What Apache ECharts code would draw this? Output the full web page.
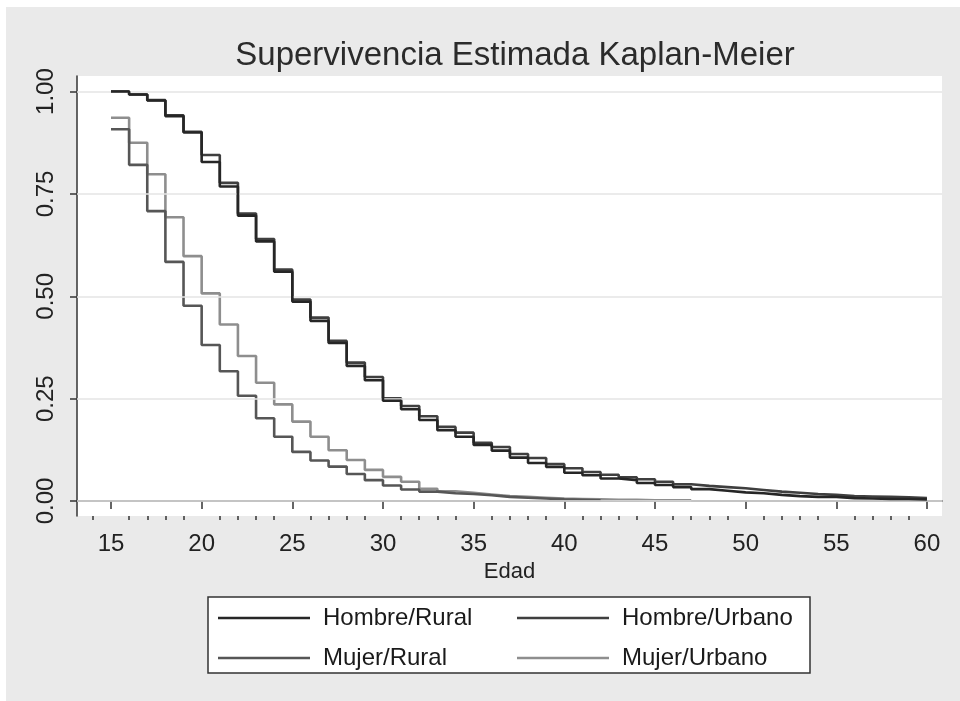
<!DOCTYPE html>
<html>
<head>
<meta charset="utf-8">
<title>Supervivencia Estimada Kaplan-Meier</title>
<script src="https://cdn.jsdelivr.net/npm/echarts@6/dist/echarts.min.js"></script>
<style>
 html, body { margin: 0; padding: 0; background: #fff; }
 #main { width: 960px; height: 701px; }
</style>
</head>
<body>
<div id="main"></div>
<script>
/** datos **/
var seriesNames = ['Hombre/Rural', 'Hombre/Urbano', 'Mujer/Rural', 'Mujer/Urbano'];
var seriesColors = ['#262626', '#3f3f3f', '#565656', '#8e8e8e'];

// edad de inicio de cada tramo: 15, 16, 17 ...
var startAge = 15;
var hombreRural = [1.000, 0.993, 0.978, 0.940, 0.900, 0.828, 0.768, 0.697, 0.634, 0.560,
  0.487, 0.440, 0.386, 0.330, 0.295, 0.245, 0.224, 0.198, 0.173, 0.157,
  0.137, 0.123, 0.106, 0.093, 0.083, 0.069, 0.063, 0.055, 0.051, 0.044,
  0.039, 0.034, 0.029, 0.025, 0.021, 0.019, 0.015, 0.012, 0.010, 0.010,
  0.007, 0.006, 0.005, 0.005, 0.004];
var hombreUrbano = [1.000, 0.993, 0.979, 0.942, 0.902, 0.845, 0.777, 0.702, 0.640, 0.565,
  0.492, 0.448, 0.391, 0.338, 0.303, 0.251, 0.232, 0.207, 0.181, 0.167,
  0.142, 0.132, 0.115, 0.105, 0.090, 0.080, 0.071, 0.064, 0.058, 0.053,
  0.047, 0.041, 0.037, 0.034, 0.031, 0.027, 0.023, 0.020, 0.017, 0.015,
  0.012, 0.011, 0.010, 0.009, 0.007];
var mujerRural = [0.908, 0.821, 0.708, 0.584, 0.477, 0.381, 0.317, 0.257, 0.202, 0.157,
  0.120, 0.099, 0.084, 0.066, 0.051, 0.038, 0.028, 0.023, 0.019, 0.017,
  0.014, 0.010, 0.008, 0.006, 0.004, 0.003, 0.002];
var mujerUrbano = [0.936, 0.875, 0.798, 0.693, 0.598, 0.507, 0.431, 0.354, 0.289, 0.236,
  0.194, 0.157, 0.124, 0.100, 0.076, 0.059, 0.047, 0.030, 0.024, 0.020,
  0.016, 0.012, 0.010, 0.008, 0.006, 0.005, 0.004, 0.003, 0.003, 0.002,
  0.002, 0.002];

var xTicks = [15, 20, 25, 30, 35, 40, 45, 50, 55, 60];
var xMinorTicks = [14, 16, 17, 18, 19, 21, 22, 23, 24, 26, 27, 28, 29, 31, 32, 33, 34,
  36, 37, 38, 39, 41, 42, 43, 44, 46, 47, 48, 49, 51, 52, 53, 54, 56, 57, 58, 59];
var yTicks = [0, 0.25, 0.5, 0.75, 1];

var font = "'Liberation Sans', Arial, sans-serif";

// convierte una lista de valores en puntos [edad, S(t)], con el ultimo tramo cerrado
function toSteps(values) {
 var pts = [];
 values.forEach(function(v, i) {
  pts.push([startAge + i, v]);
 });
 pts.push([startAge + values.length, values[values.length - 1]]);
 return pts;
}

var allValues = [hombreRural, hombreUrbano, mujerRural, mujerUrbano];
var series = [];
// lineas de referencia horizontales
series.push({
 type: 'line',
 data: [],
 z: 1,
 silent: true,
 markLine: {
  silent: true,
  symbol: ['none', 'none'],
  label: { show: false },
  lineStyle: { color: '#e4e4e4', width: 1.5, type: 'solid' },
  data: yTicks.map(function(t) { return { yAxis: t }; })
 }
});
allValues.forEach(function(vals, index) {
 series.push({
  name: seriesNames[index],
  type: 'line',
  step: 'end',
  symbol: 'none',
  z: 5 - index,
  data: toSteps(vals),
  color: seriesColors[index],
  lineStyle: { width: 2.6, color: seriesColors[index] }
 });
});

/** leyenda en dos columnas **/
function legendColumn(names, left) {
 return {
  data: names,
  orient: 'vertical',
  left: left,
  top: 606,
  padding: 0,
  itemGap: 16,
  icon: 'rect',
  itemWidth: 92,
  itemHeight: 2.6,
  z: 6,
  textStyle: { fontFamily: font, fontSize: 24, color: '#1a1a1a', padding: [0, 0, 0, 8] }
 };
}

var chart = echarts.init(document.getElementById('main'));
var option = {
 animation: false,
 backgroundColor: '#eaeaea',
 graphic: [
  { type: 'rect', shape: { x: 0, y: 0, width: 960, height: 7 }, style: { fill: '#fff' } },
  { type: 'rect', shape: { x: 0, y: 0, width: 6, height: 701 }, style: { fill: '#fff' } },
  // marco de la leyenda
  { type: 'rect', z: 0, shape: { x: 208, y: 597, width: 602, height: 76 },
    style: { fill: '#fff', stroke: '#333', lineWidth: 1.5 } }
 ],
 title: {
  text: 'Supervivencia Estimada Kaplan-Meier',
  left: 510,
  textAlign: 'center',
  top: 34,
  textStyle: { fontFamily: font, fontSize: 33, fontWeight: 'normal', color: '#2b2b2b' }
 },
 grid: {
  left: 77,
  right: 18,
  top: 76,
  bottom: 185,
  show: true,
  backgroundColor: '#fff',
  borderWidth: 0
 },
 legend: [
  legendColumn(['Hombre/Rural', 'Mujer/Rural'], 218),
  legendColumn(['Hombre/Urbano', 'Mujer/Urbano'], 517)
 ],
 xAxis: [
  {
   type: 'value',
   min: 13.125,
   max: 60.83,
   name: 'Edad',
   nameLocation: 'middle',
   nameGap: 41,
   nameTextStyle: { fontFamily: font, fontSize: 22, color: '#222' },
   axisLine: { show: true, lineStyle: { color: '#333', width: 1.5 } },
   axisTick: { show: true, customValues: xTicks, length: 8, lineStyle: { color: '#333', width: 1.5 } },
   axisLabel: { customValues: xTicks, margin: 16, fontFamily: font, fontSize: 24, color: '#222' },
   splitLine: { show: false }
  },
  {
   type: 'value',
   position: 'bottom',
   offset: 0,
   min: 13.125,
   max: 60.83,
   axisLine: { show: false },
   axisTick: { show: true, customValues: xMinorTicks, length: 4, lineStyle: { color: '#333', width: 1.5 } },
   axisLabel: { show: false },
   splitLine: { show: false }
  }
 ],
 yAxis: {
  type: 'value',
  min: -0.0366,
  max: 1.038,
  axisLine: { show: true, lineStyle: { color: '#333', width: 1.5 } },
  axisTick: { show: true, customValues: yTicks, length: 7, lineStyle: { color: '#333', width: 1.5 } },
  axisLabel: {
   customValues: yTicks,
   rotate: 90,
   margin: 19,
   fontFamily: font,
   fontSize: 24,
   color: '#222',
   formatter: function(v) { return v.toFixed(2); }
  },
  splitLine: { show: false }
 },
 series: series
};
chart.setOption(option);
</script>
</body>
</html>
